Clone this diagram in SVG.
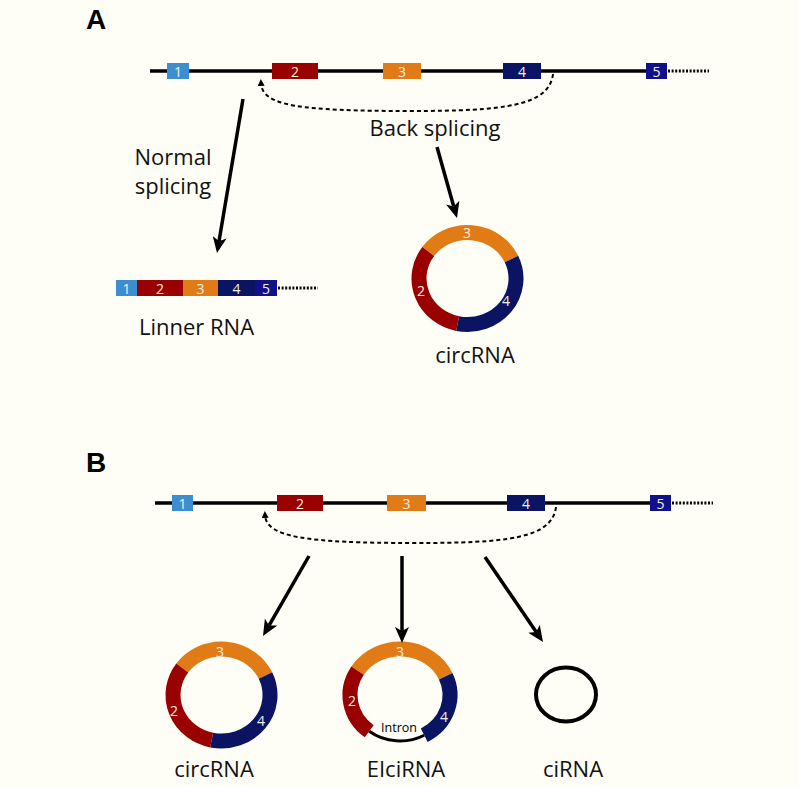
<svg xmlns="http://www.w3.org/2000/svg" width="798" height="787" viewBox="0 0 798 787">
<style>
.bg{fill:#fefef6}
.gene{stroke:#000;stroke-width:3.5;fill:none}
.tail{stroke:#000;stroke-width:3;stroke-dasharray:2 1.6;fill:none}
.dash{stroke:#000;stroke-width:2;stroke-dasharray:4 3;fill:none}
.arrow{stroke:#000;stroke-width:3.5;fill:none}
.e1{fill:#3b8fd0}.e2{fill:#990000}.e3{fill:#e07b16}.e4{fill:#0b1462}.e5{fill:#10108a}
.r2{stroke:#990000}.r3{stroke:#e07b16}.r4{stroke:#0b1462}
.ring{fill:none;stroke-width:15}
.num{font-family:"Open Sans","Noto Sans",sans-serif;font-size:14px;fill:#f4efe4;text-anchor:middle}
.lbl{font-family:"Open Sans","Noto Sans",sans-serif;font-size:22px;fill:#111;text-anchor:middle}
.pan{font-family:"Liberation Sans",Arial,sans-serif;font-size:28px;font-weight:bold;fill:#000}
</style>
<defs>
<marker id="ah" markerUnits="userSpaceOnUse" markerWidth="17" markerHeight="14" refX="4" refY="7" orient="auto">
<path d="M0,0 L16,7 L0,14 L4,7 z" fill="#000"/>
</marker>
<marker id="sah" markerUnits="userSpaceOnUse" markerWidth="8" markerHeight="8" refX="3" refY="3.5" orient="auto">
<path d="M0,0 L7,3.5 L0,7 z" fill="#000"/>
</marker>
</defs>
<rect class="bg" x="0" y="0" width="798" height="787"/>

<text class="pan" x="86" y="29">A</text>
<text class="pan" x="86" y="472">B</text>

<!-- Panel A gene -->
<g id="geneA">
<line class="gene" x1="150" y1="71" x2="647" y2="71"/>
<line class="tail" x1="668" y1="71" x2="709" y2="71"/>
<rect class="e1" x="167" y="63" width="22" height="16"/><text class="num" x="178" y="76.5">1</text>
<rect class="e2" x="272" y="63" width="46" height="16"/><text class="num" x="295" y="76.5">2</text>
<rect class="e3" x="383" y="63" width="38" height="16"/><text class="num" x="402" y="76.5">3</text>
<rect class="e4" x="503" y="63" width="38" height="16"/><text class="num" x="522" y="76.5">4</text>
<rect class="e5" x="646" y="63" width="21" height="16"/><text class="num" x="656.5" y="76.5">5</text>
</g>

<g id="linearA">
<rect class="e1" x="116" y="280" width="21" height="16"/><text class="num" x="126.5" y="293.5">1</text>
<rect class="e2" x="137" y="280" width="46" height="16"/><text class="num" x="160" y="293.5">2</text>
<rect class="e3" x="183" y="280" width="35" height="16"/><text class="num" x="200.5" y="293.5">3</text>
<rect class="e4" x="218" y="280" width="37" height="16"/><text class="num" x="236.5" y="293.5">4</text>
<rect class="e5" x="255" y="280" width="22" height="16"/><text class="num" x="266" y="293.5">5</text>
<line class="tail" x1="278" y1="288" x2="318" y2="288"/>
<text class="lbl" x="196.5" y="335">Linner RNA</text>
</g>

<g id="circA">
<path class="ring r3" d="M428.26 251.46 A48.5 46 0 0 1 511.46 259.06"/>
<path class="ring r4" d="M511.46 259.06 A48.5 46 0 0 1 457.66 323.54"/>
<path class="ring r2" d="M457.66 323.54 A48.5 46 0 0 1 428.26 251.46"/>
<text class="num" x="467" y="238">3</text>
<text class="num" x="421" y="296">2</text>
<text class="num" x="506" y="306">4</text>
<text class="lbl" x="475" y="363">circRNA</text>
</g>

<!-- Panel B gene -->
<g id="geneB">
<line class="gene" x1="155" y1="503" x2="651" y2="503"/>
<line class="tail" x1="672" y1="503" x2="713" y2="503"/>
<rect class="e1" x="172" y="495" width="21" height="16"/><text class="num" x="182.5" y="508.5">1</text>
<rect class="e2" x="277" y="495" width="46" height="16"/><text class="num" x="300" y="508.5">2</text>
<rect class="e3" x="387" y="495" width="39" height="16"/><text class="num" x="406.5" y="508.5">3</text>
<rect class="e4" x="507" y="495" width="38" height="16"/><text class="num" x="526" y="508.5">4</text>
<rect class="e5" x="650" y="495" width="21" height="16"/><text class="num" x="660.5" y="508.5">5</text>
</g>

<g id="circB">
<path class="ring r3" d="M182.26 667.96 A48.5 46 0 0 1 265.46 675.56"/>
<path class="ring r4" d="M265.46 675.56 A48.5 46 0 0 1 211.66 740.04"/>
<path class="ring r2" d="M211.66 740.04 A48.5 46 0 0 1 182.26 667.96"/>
<text class="num" x="220" y="657">3</text>
<text class="num" x="174" y="716">2</text>
<text class="num" x="261" y="726">4</text>
<text class="lbl" x="214" y="777">circRNA</text>
</g>

<g id="eiciB">
<path class="ring r3" d="M357.6 670.6 A50 46 0 0 1 445.68 676.29"/>
<path class="ring r4" d="M445.68 676.29 A50 46 0 0 1 424.24 735.23"/>
<path class="ring r2" d="M369.2 731.25 A50 46 0 0 1 357.6 670.6"/>
<path d="M369.2 731.25 A50 46 0 0 0 424.24 735.23" fill="none" stroke="#000" stroke-width="3"/>
<text class="num" x="400" y="657">3</text>
<text class="num" x="352" y="706">2</text>
<text class="num" x="444" y="722">4</text>
<text x="399" y="732" font-family="'Open Sans','Noto Sans',sans-serif" font-size="12.5" fill="#000" text-anchor="middle">Intron</text>
<text class="lbl" x="406" y="777">EIciRNA</text>
</g>

<g id="ciB">
<ellipse cx="566" cy="694.5" rx="30" ry="27" fill="none" stroke="#000" stroke-width="4"/>
<text class="lbl" x="573" y="777">ciRNA</text>
</g>

<g id="connectors">
<path class="dash" marker-end="url(#sah)" d="M553 74 C549 106 505 111 410 111 C300 111 262 106 261 83"/>
<text class="lbl" x="435" y="136">Back splicing</text>
<text class="lbl" x="173" y="165">Normal</text>
<text class="lbl" x="173" y="194">splicing</text>
<line class="arrow" marker-end="url(#ah)" x1="243" y1="99" x2="219" y2="241.2"/>
<line class="arrow" marker-end="url(#ah)" x1="437" y1="147" x2="453.75" y2="206.45"/>
<path class="dash" marker-end="url(#sah)" d="M556 507 C552 539 505 543 415 543 C305 543 266 537 265 515"/>
<line class="arrow" marker-end="url(#ah)" x1="309" y1="556" x2="268.98" y2="625.6"/>
<line class="arrow" marker-end="url(#ah)" x1="402" y1="556" x2="402" y2="631"/>
<line class="arrow" marker-end="url(#ah)" x1="485" y1="557" x2="536.23" y2="632.09"/>
</g>
</svg>
